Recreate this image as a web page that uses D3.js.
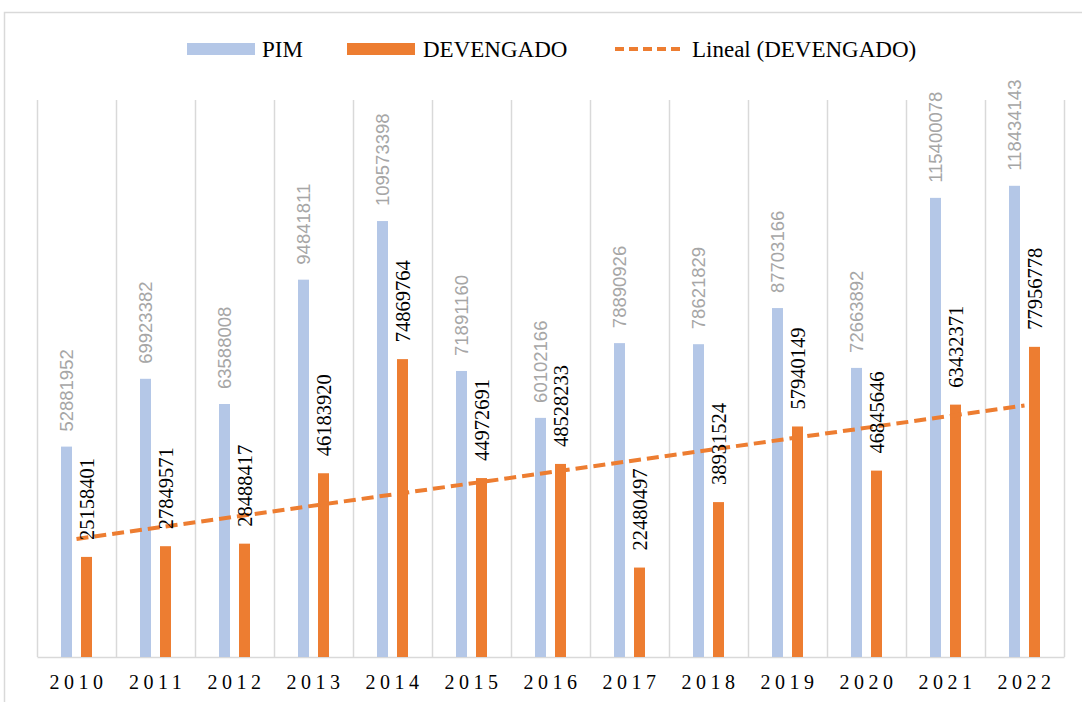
<!DOCTYPE html>
<html>
<head>
<meta charset="utf-8">
<script src="https://cdn.jsdelivr.net/npm/d3@7"></script>
<style>
body { margin: 0; background: #fff; }
</style>
</head>
<body>
<script>
var years = ["2010", "2011", "2012", "2013", "2014", "2015", "2016", "2017", "2018", "2019", "2020", "2021", "2022"];
var pim = [52881952, 69923382, 63588008, 94841811, 109573398, 71891160, 60102166, 78890926, 78621829, 87703166, 72663892, 115400078, 118434143];
var devengado = [25158401, 27849571, 28488417, 46183920, 74869764, 44972691, 48528233, 22480497, 38931524, 57940149, 46845646, 63432371, 77956778];

var W = 1082, H = 702;
var margin = {top: 100, right: 18, bottom: 45, left: 37},
    width = W - margin.left - margin.right,
    height = H - margin.top - margin.bottom;

var svg = d3.select("body").append("svg")
    .attr("width", W)
    .attr("height", H);

// chart frame
svg.append("path")
    .attr("d", "M4.5," + H + "V12.5H" + W)
    .attr("fill", "none")
    .attr("stroke", "#d9d9d9")
    .attr("stroke-width", 1.5);

var g = svg.append("g")
    .attr("transform", "translate(" + margin.left + "," + margin.top + ")");

var x = d3.scaleBand()
    .domain(years)
    .range([0, width]);
var y = d3.scaleLinear()
    .domain([0, 140000000])
    .range([height, 0]);

var barW = 11, off = 10;

// vertical gridlines at category borders
var borders = years.map(function(d) { return x(d); }).concat([width]);
g.selectAll(".grid")
    .data(borders)
    .enter().append("line")
    .attr("x1", function(d) { return Math.round(d) + 0.5; })
    .attr("x2", function(d) { return Math.round(d) + 0.5; })
    .attr("y1", 0)
    .attr("y2", height)
    .attr("stroke", "#d9d9d9")
    .attr("stroke-width", 1.5);

// x axis
var xAxis = g.append("g")
    .attr("transform", "translate(0," + height + ")")
    .call(d3.axisBottom(x).tickSize(0).tickPadding(18));
xAxis.select(".domain").attr("stroke", "#d9d9d9").attr("stroke-width", 1.5);
xAxis.selectAll("text")
    .attr("font-family", "Liberation Serif, Times New Roman, serif")
    .attr("font-size", 20)
    .attr("letter-spacing", "4.5px")
    .attr("dx", "2px")
    .attr("fill", "#000");

// bars
g.selectAll(".pim")
    .data(pim)
    .enter().append("rect")
    .attr("x", function(d, i) { return x(years[i]) + x.bandwidth() / 2 - off - barW / 2; })
    .attr("y", function(d) { return y(d); })
    .attr("width", barW)
    .attr("height", function(d) { return height - y(d); })
    .attr("fill", "#b4c7e7");

g.selectAll(".dev")
    .data(devengado)
    .enter().append("rect")
    .attr("x", function(d, i) { return x(years[i]) + x.bandwidth() / 2 + off - barW / 2; })
    .attr("y", function(d) { return y(d); })
    .attr("width", barW)
    .attr("height", function(d) { return height - y(d); })
    .attr("fill", "#ed7d31");

// linear trend of DEVENGADO
var n = devengado.length;
var mx = d3.mean(devengado, function(d, i) { return i; });
var my = d3.mean(devengado);
var sxy = d3.sum(devengado, function(d, i) { return (i - mx) * (d - my); });
var sxx = d3.sum(devengado, function(d, i) { return (i - mx) * (i - mx); });
var slope = sxy / sxx, icpt = my - slope * mx;
var trend = [0, n - 1].map(function(i) { return [i, icpt + slope * i]; });
g.append("path")
    .datum(trend)
    .attr("d", d3.line()
        .x(function(d) { return x(years[d[0]]) + x.bandwidth() / 2; })
        .y(function(d) { return y(d[1]); }))
    .attr("fill", "none")
    .attr("stroke", "#ed7d31")
    .attr("stroke-width", 4)
    .attr("stroke-dasharray", "12,6");

// value labels
g.selectAll(".pimLbl")
    .data(pim)
    .enter().append("text")
    .attr("transform", function(d, i) {
        return "translate(" + (x(years[i]) + x.bandwidth() / 2 - off + 6.5) + "," + (y(d) - 15) + ") rotate(-90)";
    })
    .attr("font-family", "Liberation Sans, Arial, sans-serif")
    .attr("font-size", 18.5)
    .attr("fill", "#a6a6a6")
    .text(function(d) { return d; });

g.selectAll(".devLbl")
    .data(devengado)
    .enter().append("text")
    .attr("transform", function(d, i) {
        return "translate(" + (x(years[i]) + x.bandwidth() / 2 + off + 7) + "," + (y(d) - 17) + ") rotate(-90)";
    })
    .attr("font-family", "Liberation Serif, Times New Roman, serif")
    .attr("font-size", 20.5)
    .attr("fill", "#000")
    .text(function(d) { return d; });

// legend
var legend = svg.append("g").attr("font-family", "Liberation Serif, Times New Roman, serif").attr("font-size", 23);
legend.append("rect").attr("x", 187).attr("y", 43).attr("width", 68).attr("height", 12).attr("fill", "#b4c7e7");
legend.append("text").attr("x", 262).attr("y", 57).text("PIM");
legend.append("rect").attr("x", 347).attr("y", 43).attr("width", 68).attr("height", 12).attr("fill", "#ed7d31");
legend.append("text").attr("x", 423).attr("y", 57).text("DEVENGADO");
legend.append("line").attr("x1", 615).attr("x2", 685).attr("y1", 49).attr("y2", 49)
    .attr("stroke", "#ed7d31").attr("stroke-width", 4).attr("stroke-dasharray", "9,5");
legend.append("text").attr("x", 692).attr("y", 57).text("Lineal (DEVENGADO)");
</script>
</body>
</html>
